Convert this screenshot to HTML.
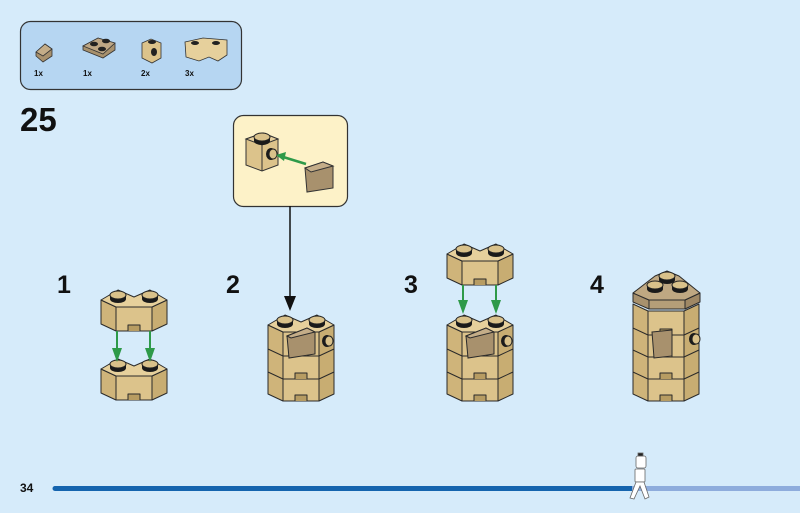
<!DOCTYPE html>
<html><head><meta charset="utf-8"><style>
html,body{margin:0;padding:0;background:#d6ebfa;}
svg{display:block}
text{font-family:"Liberation Sans",sans-serif;font-weight:bold;fill:#111}
</style></head><body>
<svg width="800" height="513" viewBox="0 0 800 513" xmlns="http://www.w3.org/2000/svg">
<defs>
  <g id="stud">
    <path d="M-8,0 v4 a8,4 0 0 0 16,0 v-4 z" fill="#1a1a1a"/>
    <ellipse cx="0" cy="0" rx="8" ry="4" fill="#d9c18a" stroke="#222" stroke-width="1"/>
  </g>
  <g id="faces" stroke="#2a2a2a" stroke-width="1" stroke-linejoin="round">
    <path d="M0,12 L15,19 L15,43 L0,36 Z" fill="#cfb47a"/>
    <path d="M15,19 L51,19 L51,43 L15,43 Z" fill="#dcc38b"/>
    <path d="M51,19 L66,12 L66,36 L51,43 Z" fill="#c8ad72"/>
    <path d="M27,43 v-6 h12 v6" fill="#b79c62"/>
  </g>
  <g id="brick">
    <use href="#faces"/>
    <path d="M0,12 L17,2 L33,9 L49,2 L66,12 L51,19 L15,19 Z" fill="#e6d09c" stroke="#2a2a2a" stroke-width="1" stroke-linejoin="round"/>
    <use href="#stud" x="17" y="7"/>
    <use href="#stud" x="49" y="7"/>
  </g>
  <g id="sidestud">
    <ellipse cx="0" cy="0" rx="5" ry="6" fill="#1a1a1a"/>
    <ellipse cx="2" cy="0" rx="4" ry="5" fill="#d9c18a" stroke="#222"/>
  </g>
  <g id="slope">
    <path d="M0,8 L20,0 L28,4 L28,26 L2,30 Z" fill="#a8916d" stroke="#2a2a2a"/>
    <path d="M0,8 L20,0 L28,4 L4,10 Z" fill="#c4ad88" stroke="#2a2a2a"/>
  </g>
  <marker id="ga" markerWidth="8" markerHeight="8" refX="4" refY="7" orient="auto" markerUnits="userSpaceOnUse">
  </marker>
</defs>

<!-- parts box -->
<rect x="20.5" y="21.5" width="221" height="68" rx="10" fill="#b6d6f2" stroke="#333" stroke-width="1.2"/>
<g transform="translate(36,42)">
  <path d="M0,10 L9,2 L16,7 L16,14 L7,20 L0,14 Z" fill="#a8916d" stroke="#333" stroke-width="0.8"/>
  <path d="M0,10 L9,2 L16,7 L7,14 Z" fill="#c4ad88" stroke="#333" stroke-width="0.8"/>
</g>
<g transform="translate(83,36)">
  <path d="M0,10 L15,2 L32,7 L32,14 L20,22 L0,14 Z" fill="#a8916d" stroke="#333" stroke-width="0.8"/>
  <path d="M0,10 L15,2 L32,7 L20,18 Z" fill="#bea785" stroke="#333" stroke-width="0.8"/>
  <ellipse cx="11" cy="8" rx="4" ry="2.3" fill="#222"/><ellipse cx="23" cy="5" rx="4" ry="2.3" fill="#222"/><ellipse cx="19" cy="13" rx="4" ry="2.3" fill="#222"/>
</g>
<g transform="translate(142,38)">
  <path d="M0,5 L9,1 L19,5 L19,20 L10,25 L0,20 Z" fill="#dcc38b" stroke="#333" stroke-width="0.8"/>
  <ellipse cx="10" cy="4" rx="4" ry="2" fill="#222"/>
  <ellipse cx="12" cy="14" rx="3" ry="4" fill="#222"/>
</g>
<g transform="translate(185,37)">
  <path d="M0,5 L18,1 L42,3 L42,18 L33,24 L24,20 L14,24 L1,20 Z" fill="#e6d09c" stroke="#333" stroke-width="0.8"/>
  <ellipse cx="10" cy="6" rx="4" ry="2" fill="#222"/><ellipse cx="31" cy="6" rx="4" ry="2" fill="#222"/>
</g>
<text x="34" y="76" font-size="8">1x</text>
<text x="83" y="76" font-size="8">1x</text>
<text x="141" y="76" font-size="8">2x</text>
<text x="185" y="76" font-size="8">3x</text>

<text x="20" y="131" font-size="33">25</text>

<!-- callout -->
<rect x="233.5" y="115.5" width="114" height="91" rx="10" fill="#fdf2c8" stroke="#333" stroke-width="1.2"/>
<g transform="translate(246,129)">
  <path d="M0,10 L17,4 L32,10 L32,36 L16,42 L0,36 Z" fill="#dcc38b" stroke="#333"/>
  <path d="M0,10 L17,4 L32,10 L16,16 Z" fill="#e6d09c" stroke="#333"/>
  <path d="M16,16 V42" stroke="#333"/>
  <use href="#stud" x="16" y="8"/>
  <use href="#sidestud" x="25" y="25"/>
</g>
<path d="M306,164 L280,156" stroke="#2e9a49" stroke-width="2.5"/>
<path d="M276,155 L286,152 L284,161 Z" fill="#2e9a49"/>
<g transform="translate(305,162)"><path d="M0,6 L18,0 L28,4 L28,26 L2,30 Z" fill="#a8916d" stroke="#333"/><path d="M0,6 L18,0 L28,4 L6,10 Z" fill="#c4ad88" stroke="#333"/></g>
<line x1="290" y1="206" x2="290" y2="298" stroke="#111" stroke-width="1.5"/>
<path d="M284,296 L296,296 L290,311 Z" fill="#111"/>

<!-- step numbers -->
<text x="57" y="293" font-size="25">1</text>
<text x="226" y="293" font-size="25">2</text>
<text x="404" y="293" font-size="25">3</text>
<text x="590" y="293" font-size="25">4</text>

<!-- step 1 -->
<use href="#brick" x="101" y="288"/>
<use href="#brick" x="101" y="357"/>
<g stroke="#2e9a49" stroke-width="2"><line x1="117" y1="331" x2="117" y2="352"/><line x1="150" y1="331" x2="150" y2="352"/></g>
<path d="M112,348 L122,348 L117,362 Z M145,348 L155,348 L150,362 Z" fill="#2e9a49"/>

<!-- step 2 -->
<use href="#faces" x="268" y="358"/>
<use href="#faces" x="268" y="336"/>
<use href="#brick" x="268" y="313"/>
<use href="#slope" x="287" y="328"/>
<use href="#sidestud" x="327" y="341"/>

<!-- step 3 -->
<use href="#brick" x="447" y="242"/>
<g stroke="#2e9a49" stroke-width="2"><line x1="463" y1="285" x2="463" y2="304"/><line x1="496" y1="285" x2="496" y2="304"/></g>
<path d="M458,300 L468,300 L463,314 Z M491,300 L501,300 L496,314 Z" fill="#2e9a49"/>
<use href="#faces" x="447" y="358"/>
<use href="#faces" x="447" y="336"/>
<use href="#brick" x="447" y="313"/>
<use href="#slope" x="466" y="328"/>
<use href="#sidestud" x="506" y="341"/>

<!-- step 4 -->
<use href="#faces" x="633" y="358"/>
<use href="#faces" x="633" y="336"/>
<use href="#faces" x="633" y="314"/>
<use href="#faces" x="633" y="292"/>
<g stroke="#2a2a2a" stroke-width="1" stroke-linejoin="round">
  <path d="M633,293 L649,300 L649,309 L633,302 Z" fill="#a8916d"/>
  <path d="M649,300 L685,300 L685,309 L649,309 Z" fill="#b59e78"/>
  <path d="M685,300 L700,293 L700,302 L685,309 Z" fill="#9f8865"/>
  <path d="M633,293 L655,276 L667,271 L679,276 L700,293 L685,300 L649,300 Z" fill="#bfa882"/>
</g>
<use href="#stud" x="655" y="285"/>
<use href="#stud" x="667" y="276"/>
<use href="#stud" x="680" y="285"/>
<path d="M652,332 L672,330 L672,356 L654,358 Z" fill="#a8916d" stroke="#2a2a2a"/>
<use href="#sidestud" x="694" y="339"/>

<!-- progress -->
<text x="20" y="492" font-size="12">34</text>
<line x1="55" y1="488.5" x2="632" y2="488.5" stroke="#1564ae" stroke-width="5" stroke-linecap="round"/>
<line x1="632" y1="488.5" x2="800" y2="488.5" stroke="#8eacdc" stroke-width="5"/>
<g fill="#fff" stroke="#666" stroke-width="0.8">
  <rect x="636" y="456" width="10" height="12" rx="2"/>
  <rect x="638" y="453" width="5" height="3" fill="#222"/>
  <rect x="635" y="469" width="10" height="13" rx="1"/>
  <path d="M636,482 L630,498 L634,499 L640,486 L645,499 L649,497 L644,482 Z"/>
</g>
</svg>
</body></html>
